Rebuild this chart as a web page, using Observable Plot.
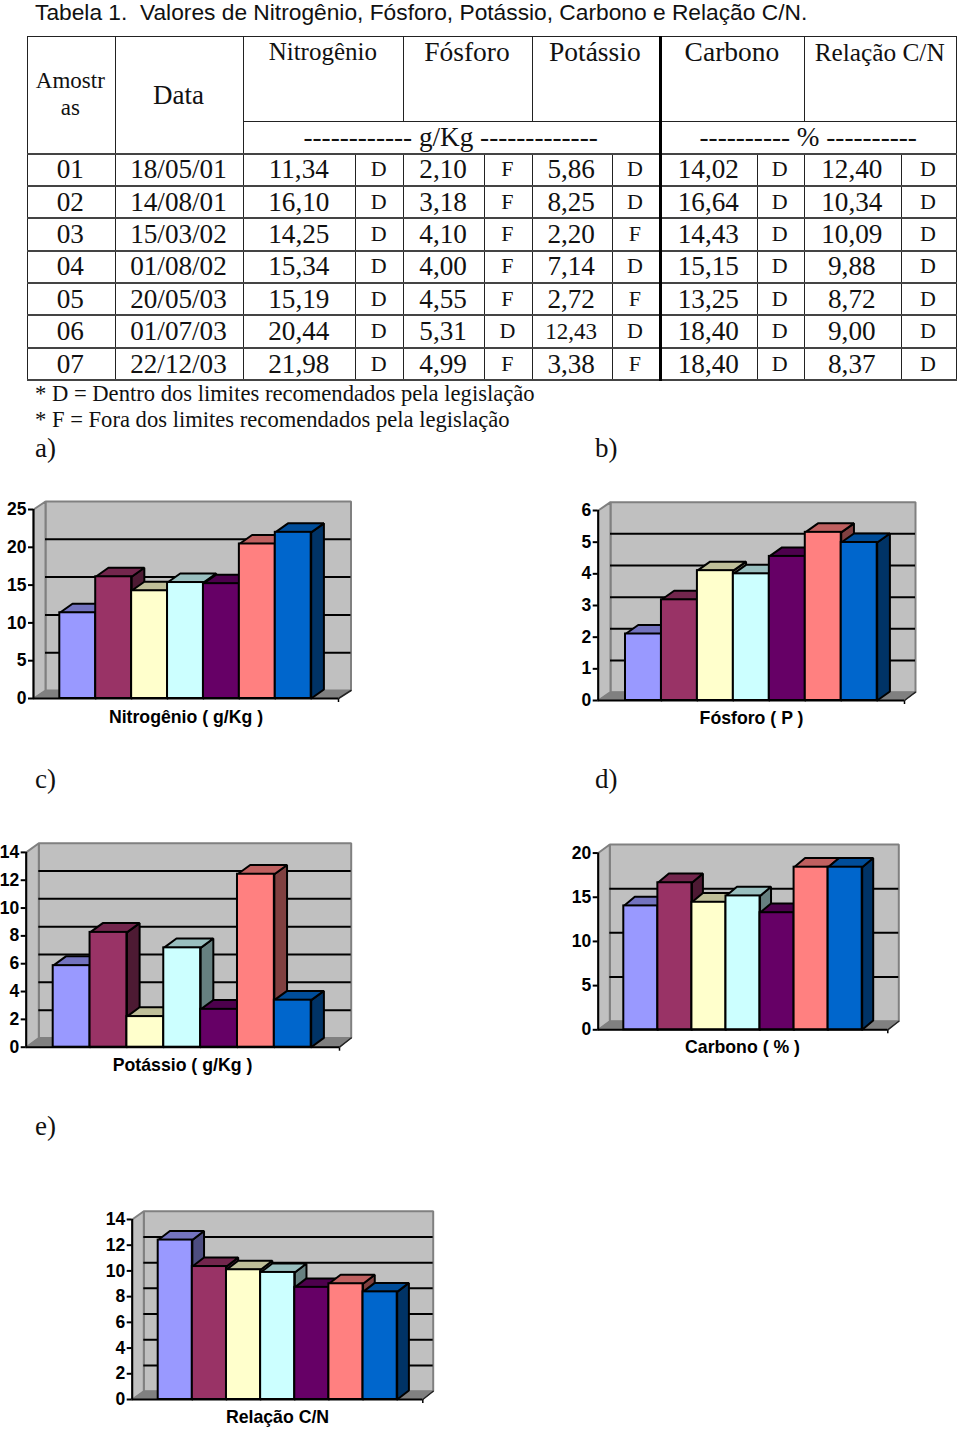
<!DOCTYPE html>
<html lang="pt">
<head>
<meta charset="utf-8">
<script src="https://cdn.jsdelivr.net/npm/d3@7"></script>
<script src="https://cdn.jsdelivr.net/npm/@observablehq/plot@0.6"></script>
<style>
  html, body { margin: 0; padding: 0; background: #fff; overflow: hidden; }
  #page { position: relative; width: 960px; height: 1429px; overflow: hidden; color: #000; }
  .t { position: absolute; white-space: pre; font-family: "Liberation Serif", serif; color: #111; }
  #title { left: 35px; top: 0; font: 22.75px/25.6px "Liberation Sans", sans-serif; color: #111; white-space: pre; position: absolute; }
  table { position: absolute; left: 27px; top: 36px; width: 929.5px; border-collapse: collapse; table-layout: fixed;
          font-family: "Liberation Serif", serif; color: #111; }
  td { border: 1px solid #222; padding: 0 2px 0 0; text-align: center; overflow: hidden; white-space: nowrap; vertical-align: middle; }
  tr.body td { border-top: 2px solid #444; border-bottom: 2px solid #444; }
  .val { font-size: 27.2px; line-height: 29px; }
  td.flag { font-size: 22px; line-height: 27px; padding-bottom: 2px; }
  .small { font-size: 23px; }
  .head { font-size: 27.5px; vertical-align: top; line-height: 30px; }
  td.thick { border-left: 3.5px solid #000; }
  svg.plot { position: absolute; overflow: visible; }
</style>
</head>
<body>
<div id="page">
  <div id="title">Tabela 1.  Valores de Nitrogênio, Fósforo, Potássio, Carbono e Relação C/N.</div>
  <div id="tbl"></div>
  <div class="t" style="left:35px;top:380px;font-size:22.6px;line-height:28px">* D = Dentro dos limites recomendados pela legislação</div>
  <div class="t" style="left:35px;top:406px;font-size:22.6px;line-height:28px">* F = Fora dos limites recomendados pela legislação</div>
  <div class="t" style="left:35px;top:432px;font-size:27px;line-height:32px">a)</div>
  <div class="t" style="left:595px;top:432px;font-size:27px;line-height:32px">b)</div>
  <div class="t" style="left:35px;top:763px;font-size:27px;line-height:32px">c)</div>
  <div class="t" style="left:595px;top:763px;font-size:27px;line-height:32px">d)</div>
  <div class="t" style="left:35px;top:1110px;font-size:27px;line-height:32px">e)</div>
</div>
<script>
const amostras = ["01","02","03","04","05","06","07"];
const datas = ["18/05/01","14/08/01","15/03/02","01/08/02","20/05/03","01/07/03","22/12/03"];
const nitrogenio = [11.34,16.10,14.25,15.34,15.19,20.44,21.98];
const nitrogenioFlag = ["D","D","D","D","D","D","D"];
const fosforo = [2.10,3.18,4.10,4.00,4.55,5.31,4.99];
const fosforoFlag = ["F","F","F","F","F","D","F"];
const potassio = [5.86,8.25,2.20,7.14,2.72,12.43,3.38];
const potassioFlag = ["D","D","F","D","F","D","F"];
const carbono = [14.02,16.64,14.43,15.15,13.25,18.40,18.40];
const carbonoFlag = ["D","D","D","D","D","D","D"];
const relacao = [12.40,10.34,10.09,9.88,8.72,9.00,8.37];
const relacaoFlag = ["D","D","D","D","D","D","D"];

const frontColors = ["#9999FF","#993366","#FFFFCC","#CCFFFF","#660066","#FF8080","#0066CC"];
const topColors   = ["#7373BF","#73264D","#BFBF99","#99BFBF","#4D004D","#BF6060","#004D99"];
const sideColors  = ["#4D4D80","#4D1A33","#808066","#668080","#330033","#804040","#003366"];

const ticksA = [0,5,10,15,20,25];
const ticksB = [0,1,2,3,4,5,6];
const ticksC = [0,2,4,6,8,10,12,14];
const ticksD = [0,5,10,15,20];
const ticksE = [0,2,4,6,8,10,12,14];

// table
const fmt = v => v.toFixed(2).replace(".", ",");
const colEdges = [27,114.7,243.3,355.3,403.3,484,531.7,611.7,660,756.7,804,900.7,956.5];
let html = "<table><colgroup>";
for (let i = 0; i < colEdges.length - 1; i++) html += `<col style="width:${colEdges[i+1]-colEdges[i]}px">`;
html += "</colgroup>";
html += `<tr style="height:84.5px">
<td rowspan="2" style="font-size:23px;line-height:27px;padding-bottom:2px">Amostr<br>as</td>
<td rowspan="2" style="font-size:27px;padding-top:2px">Data</td>
<td colspan="2" class="head" style="font-size:25px">Nitrogênio</td>
<td colspan="2" class="head">Fósforo</td>
<td colspan="2" class="head">Potássio</td>
<td colspan="2" class="head thick">Carbono</td>
<td colspan="2" class="head" style="font-size:25.3px">Relação C/N</td></tr>`;
html += `<tr style="height:32.5px">
<td colspan="6" class="val">------------ g/Kg -------------</td>
<td colspan="4" class="val thick">---------- % ----------</td></tr>`;
amostras.forEach((a, i) => {
  html += `<tr class="body" style="height:32.4px">
<td class="val">${a}</td><td class="val">${datas[i]}</td>
<td class="val">${fmt(nitrogenio[i])}</td><td class="flag">${nitrogenioFlag[i]}</td>
<td class="val">${fmt(fosforo[i])}</td><td class="flag">${fosforoFlag[i]}</td>
<td class="val${potassio[i] >= 10 ? " small" : ""}">${fmt(potassio[i])}</td><td class="flag">${potassioFlag[i]}</td>
<td class="val thick">${fmt(carbono[i])}</td><td class="flag">${carbonoFlag[i]}</td>
<td class="val">${fmt(relacao[i])}</td><td class="flag">${relacaoFlag[i]}</td></tr>`;
});
html += "</table>";
document.getElementById("tbl").innerHTML = html;

// charts
function chart3d(cfg, values, ticks, label) {
  const {left, top, width, height, originX, originY, topTickY, floorBackY, wallLeft, wallRight, wallTop, frontRight, barLeft, barRight, depthX, depthY} = cfg;
  const maxV = d3.max(ticks);
  const unit = (barRight - barLeft) / values.length;
  const k = (originY - topTickY) / maxV;
  const X = px => (px - barLeft) / unit;          // bar-index units
  const du = depthX / unit, dv = depthY / k;      // bar depth in data units
  const x0 = X(originX), xW0 = X(wallLeft), xW1 = X(wallRight), xF = X(frontRight);
  const wallDepthV = (originY - floorBackY) / k;
  const yTop = maxV + wallDepthV;
  const poly = pts => { const a = pts.map(([x, y]) => ({x, y})); a.push(a[0]); return a; };
  const face = (pts, fill, stroke, sw) =>
    Plot.line(poly(pts), {x: "x", y: "y", fill, stroke, strokeWidth: sw, curve: "linear", strokeLinejoin: "miter"});
  const marks = [
    face([[xW0, wallDepthV],[xW1, wallDepthV],[xW1, yTop],[xW0, yTop]], "#C0C0C0", "#808080", 2),
    face([[x0, 0],[xW0, wallDepthV],[xW0, yTop],[x0, maxV]], "#C0C0C0", "#808080", 2),
    face([[x0, 0],[xF, 0],[xW1, wallDepthV],[xW0, wallDepthV]], "#808080", "#808080", 1),
    Plot.ruleY(ticks.filter(t => t > 0 && t < maxV), {y: t => t + wallDepthV, x1: xW0, x2: xW1, stroke: "#000", strokeWidth: 2})
  ];
  values.forEach((v, i) => {
    marks.push(
      face([[i+1, 0],[i+1+du, dv],[i+1+du, v+dv],[i+1, v]], sideColors[i], "#000", 2),
      face([[i, v],[i+1, v],[i+1+du, v+dv],[i+du, v+dv]], topColors[i], "#000", 2),
      Plot.rect([{i, v}], {x1: "i", x2: d => d.i + 1, y1: 0, y2: "v", fill: frontColors[i], stroke: "#000", strokeWidth: 2})
    );
  });
  marks.push(
    Plot.ruleX([x0], {y1: 0, y2: maxV, stroke: "#000", strokeWidth: 2}),
    Plot.ruleY([0], {x1: x0, x2: xF, stroke: "#000", strokeWidth: 2}),
    Plot.ruleX([xF], {y1: 0, y2: -4 / k, stroke: "#000", strokeWidth: 1.5}),
    Plot.line([{x: xF, y: 0},{x: xW1, y: wallDepthV}], {x: "x", y: "y", stroke: "#222", strokeWidth: 1.5}),
    Plot.axisY({anchor: "left", ticks, tickSize: 5, tickPadding: 2, label: null, tickFormat: d => String(d),
                fontSize: 17.5, fontWeight: "bold", fontFamily: "Liberation Sans", strokeWidth: 2, fontVariant: "normal"}),
    Plot.text([label.text], {x: X(label.cx), y: 0, dy: label.y - originY, text: d => d, textAnchor: "middle",
                fontSize: 17.7, fontWeight: "bold", fontFamily: "Liberation Sans", fill: "#000"})
  );
  const svg = Plot.plot({
    width, height,
    marginLeft: originX - left, marginRight: left + width - wallRight,
    marginTop: wallTop - top, marginBottom: top + height - originY,
    x: {domain: [x0, xW1], axis: null},
    y: {domain: [0, yTop], axis: null},
    style: {background: "transparent", overflow: "visible"},
    marks
  });
  svg.style.position = "absolute";
  svg.style.left = left + "px";
  svg.style.top = top + "px";
  document.getElementById("page").appendChild(svg);
}

chart3d({left:0, top:490, width:370, height:240, originX:33, originY:698, topTickY:509, floorBackY:690, wallLeft:45, wallRight:350.5, wallTop:501,
         frontRight:338, barLeft:59.3, barRight:310.7, depthX:12.7, depthY:9}, nitrogenio, ticksA, {text:"Nitrogênio ( g/Kg )", cx:185.5, y:717});
chart3d({left:570, top:490, width:370, height:240, originX:597.7, originY:700, topTickY:510, floorBackY:691.7, wallLeft:610, wallRight:915, wallTop:501.7,
         frontRight:904, barLeft:625, barRight:876.7, depthX:12.7, depthY:9}, fosforo, ticksB, {text:"Fósforo ( P )", cx:751, y:718});
chart3d({left:0, top:830, width:370, height:250, originX:25.7, originY:1046.7, topTickY:851.7, floorBackY:1037.5, wallLeft:38.3, wallRight:350.7, wallTop:842.7,
         frontRight:339, barLeft:52.7, barRight:310.7, depthX:12.7, depthY:9.3}, potassio, ticksC, {text:"Potássio ( g/Kg )", cx:182, y:1065});
chart3d({left:570, top:830, width:340, height:235, originX:597.7, originY:1029.3, topTickY:851.7, floorBackY:1020.7, wallLeft:609.3, wallRight:898.3, wallTop:844,
         frontRight:887.3, barLeft:623.3, barRight:861.7, depthX:11, depthY:9.3}, carbono, ticksD, {text:"Carbono ( % )", cx:742, y:1047});
chart3d({left:90, top:1200, width:360, height:229, originX:131.7, originY:1399, topTickY:1218.3, floorBackY:1390.7, wallLeft:143.3, wallRight:432.7, wallTop:1210.7,
         frontRight:422.3, barLeft:157.7, barRight:396.7, depthX:11.7, depthY:9}, relacao, ticksE, {text:"Relação C/N", cx:277, y:1417});
</script>
</body>
</html>
